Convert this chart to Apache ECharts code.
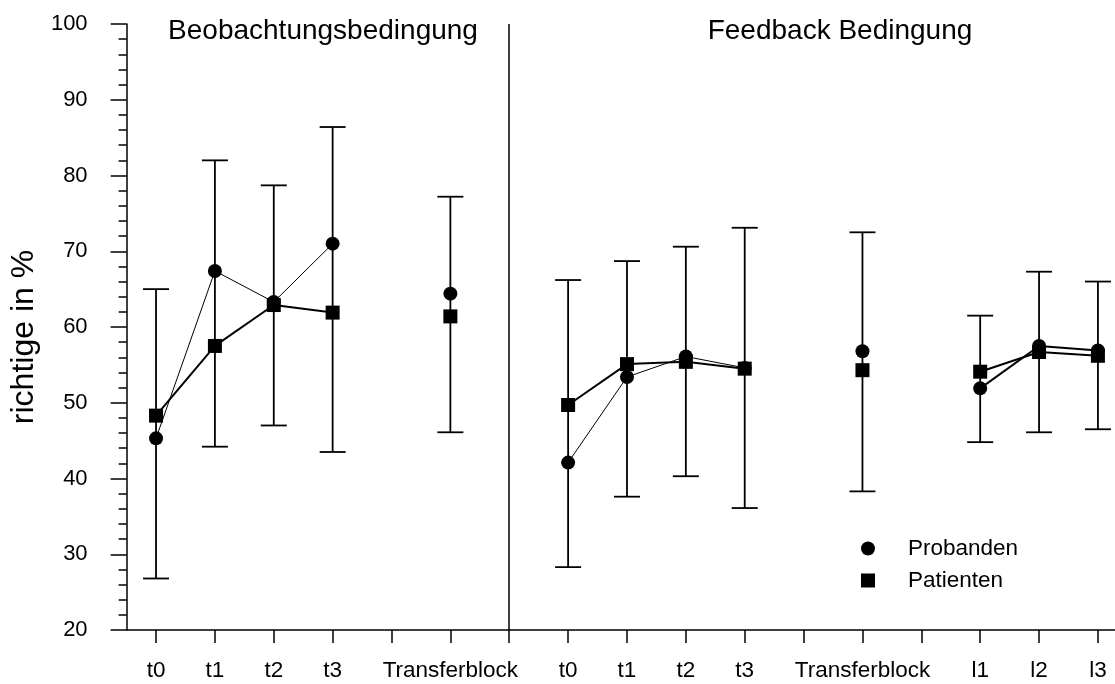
<!DOCTYPE html>
<html>
<head>
<meta charset="utf-8">
<script src="https://cdn.jsdelivr.net/npm/echarts@6/dist/echarts.min.js"></script>
<style>
html,body{margin:0;padding:0;background:#fff;}
#chart{width:1115px;height:684px;}
</style>
</head>
<body>
<div id="chart"></div>
<script>
// ---- data ----
var xLabels = ['t0','t1','t2','t3','','Transferblock','','t0','t1','t2','t3','','Transferblock','','l1','l2','l3'];
var probanden = [45.3, 67.4, 63.3, 71.0, null, 64.4, null, 42.1, 53.4, 56.1, 54.6, null, 56.8, null, 51.9, 57.5, 56.9];
var patienten = [48.3, 57.5, 62.9, 61.9, null, 61.4, null, 49.7, 55.1, 55.4, 54.5, null, 54.3, null, 54.1, 56.7, 56.2];
var errLow  = [26.8, 44.2, 47.0, 43.5, null, 46.1, null, 28.3, 37.6, 40.3, 36.1, null, 38.3, null, 44.8, 46.1, 46.5];
var errHigh = [65.0, 82.0, 78.7, 86.4, null, 77.2, null, 66.2, 68.7, 70.6, 73.1, null, 72.5, null, 61.5, 67.3, 66.0];
var yTicks = [20, 30, 40, 50, 60, 70, 80, 90, 100];
var dividerIndex = 6;
var lGroupStart = 14;

var FONT = '"Liberation Sans", Arial, Helvetica, sans-serif';
var idx = xLabels.map(function (_, i) { return i; });

function pairs(arr, keep) {
  return arr.map(function (v, i) { return [i, keep(i) ? v : null]; });
}

var errData = [];
errLow.forEach(function (lo, i) {
  if (lo != null && errHigh[i] != null) errData.push([i, lo, errHigh[i]]);
});

var chart = echarts.init(document.getElementById('chart'), null, {renderer: 'canvas'});

var option = {
  animation: false,
  backgroundColor: '#fff',
  grid: {left: 123, right: 0, top: 24, bottom: 54, containLabel: false},
  xAxis: {
    type: 'value',
    min: -0.5,
    max: 16.29,
    splitLine: {show: false},
    axisLine: {show: true, onZero: false, lineStyle: {color: '#000', width: 1.5}},
    axisTick: {show: true, customValues: idx, length: 13, lineStyle: {color: '#000', width: 1.5}},
    axisLabel: {
      show: true, customValues: idx, margin: 29,
      color: '#000', fontSize: 22.5, fontFamily: FONT,
      formatter: function (v) { return xLabels[Math.round(v)] || ''; }
    }
  },
  yAxis: {
    type: 'value',
    min: yTicks[0],
    max: yTicks[yTicks.length - 1],
    interval: 10,
    name: 'richtige in %',
    nameLocation: 'middle',
    nameGap: 70,
    nameTextStyle: {color: '#000', fontSize: 32, fontFamily: FONT, padding: [0, 20, 0, 0]},
    splitLine: {show: false},
    axisLine: {show: true, onZero: false, lineStyle: {color: '#000', width: 1.5}},
    axisTick: {show: true, length: 16, lineStyle: {color: '#000', width: 1.5}},
    minorTick: {show: true, splitNumber: 5, length: 8, lineStyle: {color: '#000', width: 1.5}},
    axisLabel: {color: '#000', fontSize: 22, fontFamily: FONT, margin: 39}
  },
  legend: {
    orient: 'vertical',
    left: 861,
    top: 537,
    itemWidth: 14,
    itemHeight: 14,
    itemGap: 9,
    padding: 0,
    selectedMode: false,
    data: [
      {name: 'Probanden', icon: 'circle'},
      {name: 'Patienten', icon: 'rect'}
    ],
    itemStyle: {color: '#000', borderWidth: 0},
    lineStyle: {width: 0},
    textStyle: {color: '#000', fontSize: 22.5, fontFamily: FONT, padding: [0, 0, 0, 28]}
  },
  graphic: [
    {type: 'text', x: 323, y: 17, style: {text: 'Beobachtungsbedingung', font: '28px ' + FONT, fill: '#000', align: 'center', verticalAlign: 'top'}},
    {type: 'text', x: 840, y: 17, style: {text: 'Feedback Bedingung', font: '28px ' + FONT, fill: '#000', align: 'center', verticalAlign: 'top'}}
  ],
  series: [
    {
      type: 'custom',
      name: 'Fehler',
      silent: true,
      z: 1,
      data: errData,
      encode: {x: 0, y: [1, 2]},
      renderItem: function (params, api) {
        var x = api.value(0);
        var top = api.coord([x, api.value(2)]);
        var bot = api.coord([x, api.value(1)]);
        var w = 13;
        var st = {stroke: '#000', lineWidth: 1.8};
        return {
          type: 'group',
          children: [
            {type: 'line', shape: {x1: top[0], y1: top[1], x2: bot[0], y2: bot[1]}, style: st},
            {type: 'line', shape: {x1: top[0] - w, y1: top[1], x2: top[0] + w, y2: top[1]}, style: st},
            {type: 'line', shape: {x1: bot[0] - w, y1: bot[1], x2: bot[0] + w, y2: bot[1]}, style: st}
          ]
        };
      },
      markLine: {
        silent: true,
        symbol: 'none',
        label: {show: false},
        lineStyle: {color: '#000', width: 1.5, type: 'solid'},
        data: [{xAxis: dividerIndex}]
      }
    },
    {
      type: 'line',
      name: 'Probanden',
      z: 3,
      data: pairs(probanden, function (i) { return i < lGroupStart; }),
      connectNulls: false,
      symbol: 'circle',
      symbolSize: 14,
      showSymbol: true,
      itemStyle: {color: '#000'},
      lineStyle: {color: '#000', width: 1}
    },
    {
      type: 'line',
      name: 'Probanden',
      z: 3,
      data: pairs(probanden, function (i) { return i >= lGroupStart; }),
      connectNulls: false,
      symbol: 'circle',
      symbolSize: 14,
      showSymbol: true,
      itemStyle: {color: '#000'},
      lineStyle: {color: '#000', width: 2}
    },
    {
      type: 'line',
      name: 'Patienten',
      z: 4,
      data: pairs(patienten, function () { return true; }),
      connectNulls: false,
      symbol: 'rect',
      symbolSize: 14,
      showSymbol: true,
      itemStyle: {color: '#000'},
      lineStyle: {color: '#000', width: 2}
    }
  ]
};
chart.setOption(option);
</script>
</body>
</html>
